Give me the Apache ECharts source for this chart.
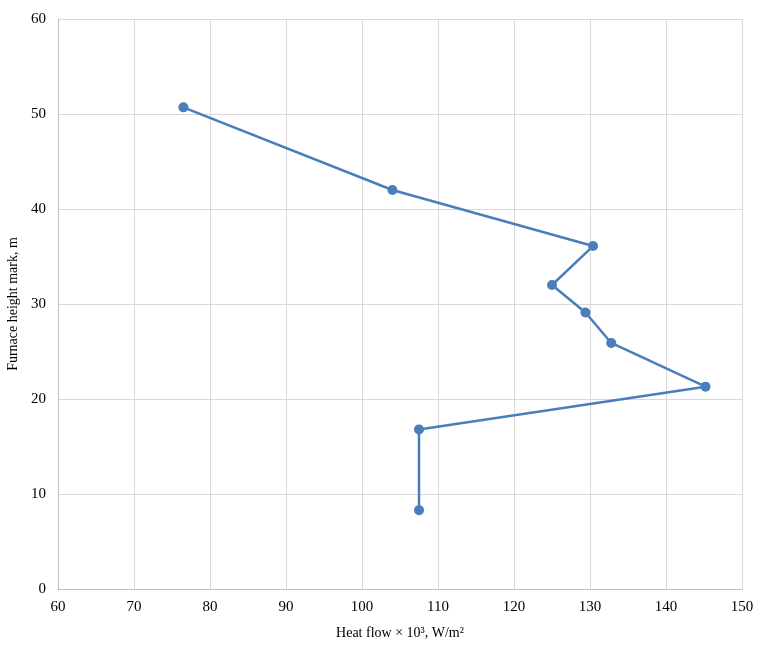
<!DOCTYPE html>
<html><head><meta charset="utf-8">
<script src="https://cdn.jsdelivr.net/npm/echarts@6/dist/echarts.min.js"></script>
<style>html,body{margin:0;padding:0;background:#fff}#c{width:763px;height:645px}</style>
</head><body><div id="c"></div>
<script>
const heatFlow = [76.5, 104.0, 130.4, 125.0, 129.4, 132.8, 145.2, 107.5, 107.5];
const heightMark = [50.7, 42.0, 36.1, 32.0, 29.1, 25.9, 21.3, 16.8, 8.3];
const xName = 'Heat flow × 10³, W/m²';
const yName = 'Furnace height mark, m';
const font = 'Liberation Serif';
const chart = echarts.init(document.getElementById('c'));
chart.setOption({
  animation: false,
  grid: {left: 58, top: 19, width: 684, height: 570, containLabel: false, outerBoundsMode: 'none'},
  xAxis: {
    type: 'value', min: 60, max: 150, interval: 10,
    name: xName, nameLocation: 'middle', nameGap: 37,
    nameTextStyle: {fontFamily: font, fontSize: 14, color: '#000'},
    axisLine: {show: true, lineStyle: {color: '#bfbfbf', width: 1}},
    axisTick: {show: false},
    axisLabel: {fontFamily: font, fontSize: 15, color: '#000', margin: 11},
    splitLine: {show: true, lineStyle: {color: '#d9d9d9', width: 1}}
  },
  yAxis: {
    type: 'value', min: 0, max: 60, interval: 10,
    name: yName, nameLocation: 'middle', nameGap: 37, nameRotate: 90,
    nameTextStyle: {fontFamily: font, fontSize: 14, color: '#000'},
    axisLine: {show: true, lineStyle: {color: '#bfbfbf', width: 1}},
    axisTick: {show: false},
    axisLabel: {fontFamily: font, fontSize: 15, color: '#000', margin: 12},
    splitLine: {show: true, lineStyle: {color: '#d9d9d9', width: 1}}
  },
  series: [{
    type: 'line',
    data: heatFlow.map((x, i) => [x, heightMark[i]]),
    symbol: 'circle', symbolSize: 10,
    lineStyle: {color: '#4a7ebb', width: 2.5},
    itemStyle: {color: '#4a7ebb'}
  }]
});
</script></body></html>
